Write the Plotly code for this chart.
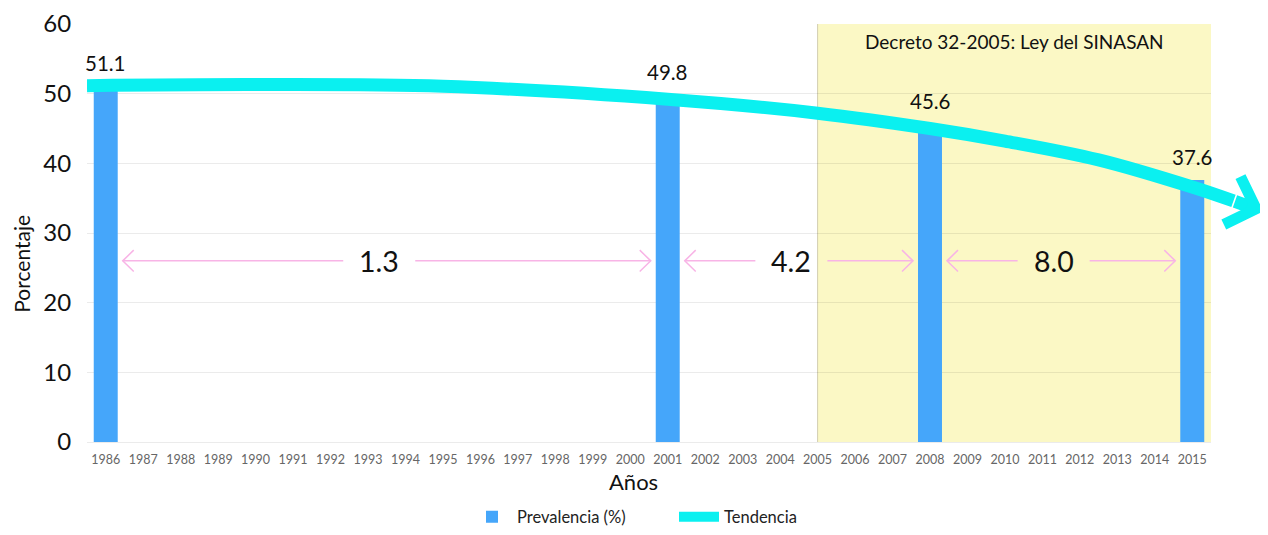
import plotly.graph_objects as go

# ---------------- data ----------------
years = [1986, 2001, 2008, 2015]
prevalence = [51.1, 49.8, 45.6, 37.6]
tick_years = list(range(1986, 2016))
trend_years = [1985.5, 1990, 1995, 2001, 2005, 2008, 2010, 2012.5, 2015, 2016.1]
trend_values = [51.15, 51.3, 51.05, 49.2, 47.2, 45.0, 43.2, 40.5, 36.6, 34.6]
trend_tip = (2016.9, 33.1)
law_start = 2005
law_label = "Decreto 32-2005: Ley del SINASAN"
gap_level = 26
x_title = "Años"
y_title = "Porcentaje"

# ---------------- style / layout ----------------
FONT = "Lato"
BLUE = "#45A6FA"
CYAN = "#0AF0F0"
PINK = "#F8B4E6"
YELLOW = "#FBF8C5"

# page body has an 8px margin, so the figure is drawn 8px in from the window edge
OFF = 8
W, H = 1268 - OFF, 535 - OFF
ML, MR, MT, MB = 87 - OFF, 0, 16 - OFF, 90
plot_w = W - ML - MR
plot_h = H - MT - MB
main_w = 1124
D = main_w / plot_w
x_lo, x_hi = tick_years[0] - 0.5, tick_years[-1] + 0.5
x2_hi = x_lo + (x_hi - x_lo) / D
px_x = main_w / (x_hi - x_lo)
px_y = plot_h / 60.0
bar_w = 0.64


def px_to_paper_x(px):
    return (px - 87) / plot_w


def px_to_paper_y(py):
    return (445 - py) / plot_h


fig = go.Figure()

fig.add_trace(go.Bar(
    x=years, y=prevalence, width=bar_w, name="Prevalencia (%)",
    marker=dict(color=BLUE, line=dict(width=0)),
    xaxis="x", yaxis="y",
))

annotations = []
for yr, v in zip(years, prevalence):
    annotations.append(dict(
        x=yr, y=v, xref="x", yref="y", text=f"{v:.1f}", showarrow=False,
        yshift=23, xanchor="center", yanchor="middle",
        font=dict(family=FONT, size=20.5, color="#111111")))

# pink double arrows between bars
hx = 11 / px_x
hy = 11 / px_y
xs, ys = [], []
for i in range(len(years) - 1):
    a, b = years[i], years[i + 1]
    mid = (a + b) / 2 - 0.2
    tl = a + bar_w / 2 + 5 / px_x
    tr = b - bar_w / 2 - 5 / px_x
    el = mid - 36 / px_x
    sr = mid + 36 / px_x
    g = gap_level
    xs += [tl + hx, tl, tl + hx, None, tl, el, None, sr, tr, None, tr - hx, tr, tr - hx, None]
    ys += [g + hy, g, g - hy, None, g, g, None, g, g, None, g + hy, g, g - hy, None]
    annotations.append(dict(
        x=mid, y=g, xref="x", yref="y", text=f"{prevalence[i] - prevalence[i + 1]:.1f}",
        showarrow=False, font=dict(family=FONT, size=28.5, color="#111111"),
        xanchor="center", yanchor="middle"))

fig.add_trace(go.Scatter(
    x=xs, y=ys, mode="lines", line=dict(color=PINK, width=1.5),
    showlegend=False, hoverinfo="skip", xaxis="x", yaxis="y",
))

fig.add_trace(go.Scatter(
    x=trend_years, y=trend_values, mode="lines", name="Tendencia",
    line=dict(color=CYAN, width=13, shape="spline", smoothing=1.0),
    xaxis="x2", yaxis="y2",
))

annotations.append(dict(
    x=trend_tip[0], y=trend_tip[1], xref="x2", yref="y2",
    ax=trend_years[-1], ay=trend_values[-1], axref="x2", ayref="y2",
    text="", showarrow=True, arrowhead=4, arrowwidth=13, arrowsize=0.75,
    arrowcolor=CYAN))

annotations.append(dict(
    x=(law_start + x_hi) / 2, y=px_to_paper_y(34), xref="x", yref="paper",
    text=law_label, showarrow=False, xanchor="center", yanchor="middle",
    font=dict(family=FONT, size=19, color="#111111")))

annotations.append(dict(
    x=px_to_paper_x(633), y=px_to_paper_y(486), xref="paper", yref="paper",
    text=x_title, showarrow=False, xanchor="center", yanchor="middle",
    font=dict(family=FONT, size=22, color="#111111")))

annotations.append(dict(
    x=px_to_paper_x(22), y=px_to_paper_y(262), xref="paper", yref="paper",
    text=y_title, showarrow=False, xanchor="center", yanchor="middle", textangle=-90,
    borderpad=0, font=dict(family=FONT, size=21, color="#111111")))

shapes = [
    dict(type="rect", xref="x", yref="paper", x0=law_start, x1=x_hi, y0=0, y1=1,
         fillcolor=YELLOW, line=dict(width=0), layer="below"),
    dict(type="line", xref="x", yref="paper", x0=law_start, x1=law_start, y0=0, y1=1,
         line=dict(color="#D2CEB2", width=1), layer="below"),
]

fig.update_layout(
    width=W, height=H,
    margin=dict(l=ML, r=MR, t=MT, b=MB),
    paper_bgcolor="white", plot_bgcolor="rgba(0,0,0,0)",
    font=dict(family=FONT, color="#111111"),
    showlegend=True,
    legend=dict(orientation="h", x=px_to_paper_x(467), xanchor="left",
                y=px_to_paper_y(522), yanchor="middle",
                font=dict(family=FONT, size=16.5, color="#222222"),
                itemwidth=40, entrywidth=152),
    xaxis=dict(domain=[0, D], range=[x_lo, x_hi], tickmode="array",
               tickvals=tick_years, ticktext=[str(y) for y in tick_years],
               tickfont=dict(family=FONT, size=12.5, color="#666666"),
               ticks="outside", ticklen=6, tickcolor="rgba(0,0,0,0)",
               ticklabeloverflow="allow",
               showgrid=False, zeroline=False, showline=False),
    yaxis=dict(domain=[0, 1], range=[0, 60], dtick=10,
               tickfont=dict(family=FONT, size=24, color="#111111"),
               ticks="outside", ticklen=10, tickcolor="rgba(0,0,0,0)",
               ticklabeloverflow="allow",
               showgrid=True, gridcolor="rgba(0,0,0,0.08)", gridwidth=1,
               zeroline=True, zerolinecolor="rgba(0,0,0,0.08)", zerolinewidth=1,
               showline=False),
    xaxis2=dict(domain=[0, 1], range=[x_lo, x2_hi], anchor="y2", visible=False),
    yaxis2=dict(domain=[0, 1], range=[0, 60], anchor="x2", visible=False),
    shapes=shapes,
    annotations=annotations,
)

fig.write_html("out.html")
